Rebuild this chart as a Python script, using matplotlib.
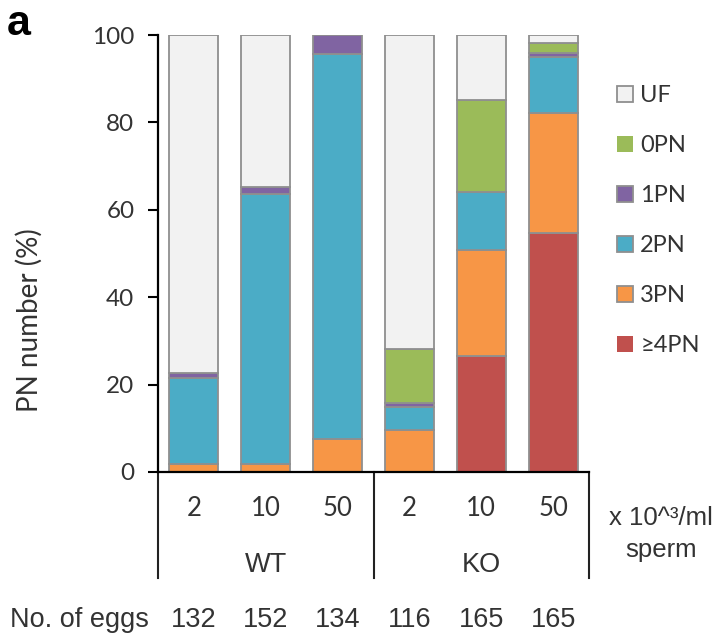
import numpy as np
import matplotlib
matplotlib.use("Agg")
import matplotlib.pyplot as plt
import matplotlib.transforms as mtransforms

# ---- data ----
doses = ["2", "10", "50", "2", "10", "50"]
groups = ["WT", "KO"]
eggs = ["132", "152", "134", "116", "165", "165"]
categories = ["\u22654PN", "3PN", "2PN", "1PN", "0PN", "UF"]  # bottom -> top
pn4 = [0, 0, 0, 0, 26.5, 54.6]
pn3 = [1.9, 1.9, 7.5, 9.5, 24.4, 27.5]
pn2 = [19.5, 61.8, 88.1, 5.4, 13.2, 12.9]
pn1 = [1.3, 1.6, 4.4, 0.9, 0, 0.8]
pn0 = [0, 0, 0, 12.4, 21.0, 2.4]
uf = [77.3, 34.7, 0, 71.8, 14.9, 1.8]
series = [pn4, pn3, pn2, pn1, pn0, uf]
colors = ["#c0504d", "#f79646", "#4bacc6", "#8064a2", "#9bbb59", "#f2f2f2"]
yticks = [0, 20, 40, 60, 80, 100]

W, H = 720, 637
fig = plt.figure(figsize=(W / 100, H / 100), dpi=100)
ax = fig.add_axes([158 / W, 1 - 472 / H, 431 / W, 437 / H])

x = np.arange(len(doses))
bottom = np.zeros(len(doses))
handles = []
for vals, col, lab in zip(series, colors, categories):
    vals = np.array(vals, dtype=float)
    lw = [1.3 if v > 0 else 0 for v in vals]
    b = ax.bar(x, vals, width=0.68, bottom=bottom, color=col,
               edgecolor="#8f8f8f", linewidth=lw, label=lab, zorder=2)
    handles.append(b)
    bottom += vals

TXT = "#333333"
ax.set_xlim(-0.5, len(doses) - 0.5)
ax.set_ylim(0, 100)
ax.set_yticks(yticks)
ax.set_yticklabels([str(t) for t in yticks], fontfamily="Lato", fontsize=17.5,
                   color=TXT)
ax.tick_params(axis="y", direction="out", length=7, width=1.5, pad=10,
               color="black")
ax.set_xticks([])
for s in ["top", "right"]:
    ax.spines[s].set_visible(False)
for s in ["left", "bottom"]:
    ax.spines[s].set_linewidth(1.6)
    ax.spines[s].set_color("black")

ax.set_ylabel("PN number (%)", fontfamily="Lato", fontsize=20, color=TXT)
ax.yaxis.set_label_coords(-0.267, 0.348)

trans = mtransforms.blended_transform_factory(ax.transData, ax.transAxes)
# group separators below axis
for xs in [-0.5, 2.5, 5.5]:
    ax.plot([xs, xs], [0, -0.2426], transform=trans, color="#222222",
            lw=1.5, clip_on=False)

for xi, d in zip(x, doses):
    ax.text(xi, -0.0824, d, transform=trans, ha="center", va="center",
            fontfamily="Lato", fontsize=18.5, color=TXT)
for gi, g in enumerate(groups):
    ax.text(1 + 3 * gi, -0.2128, g, transform=trans, ha="center",
            va="center", fontfamily="Liberation Sans", fontsize=19.5,
            color=TXT)
for xi, n in zip(x, eggs):
    ax.text(xi, -0.3387, n, transform=trans, ha="center", va="center",
            fontfamily="Liberation Sans", fontsize=19.5, color=TXT)

fig.text(10 / W, 1 - 620 / H, "No. of eggs", ha="left", va="center",
         fontfamily="Liberation Sans", fontsize=19.5, color=TXT)
fig.text(661 / W, 1 - 518 / H, "x 10^\u00b3/ml", ha="center", va="center",
         fontfamily="Liberation Sans", fontsize=18.5, color=TXT)
fig.text(661 / W, 1 - 550 / H, "sperm", ha="center", va="center",
         fontfamily="Liberation Sans", fontsize=18.5, color=TXT)
fig.text(7 / W, 1 - 24 / H, "a", ha="left", va="center",
         fontfamily="Liberation Sans", fontweight="bold", fontsize=31,
         color="black")

leg = fig.legend(handles[::-1], categories[::-1], loc="upper left",
                 bbox_to_anchor=(617 / W, 1 - 85 / H), frameon=False,
                 prop={"family": "Lato", "size": 17},
                 handlelength=0.68, handleheight=0.68, handletextpad=0.3,
                 labelspacing=1.23, borderpad=0, borderaxespad=0)
for t in leg.get_texts():
    t.set_color(TXT)

fig.savefig("out.png", dpi=100)
